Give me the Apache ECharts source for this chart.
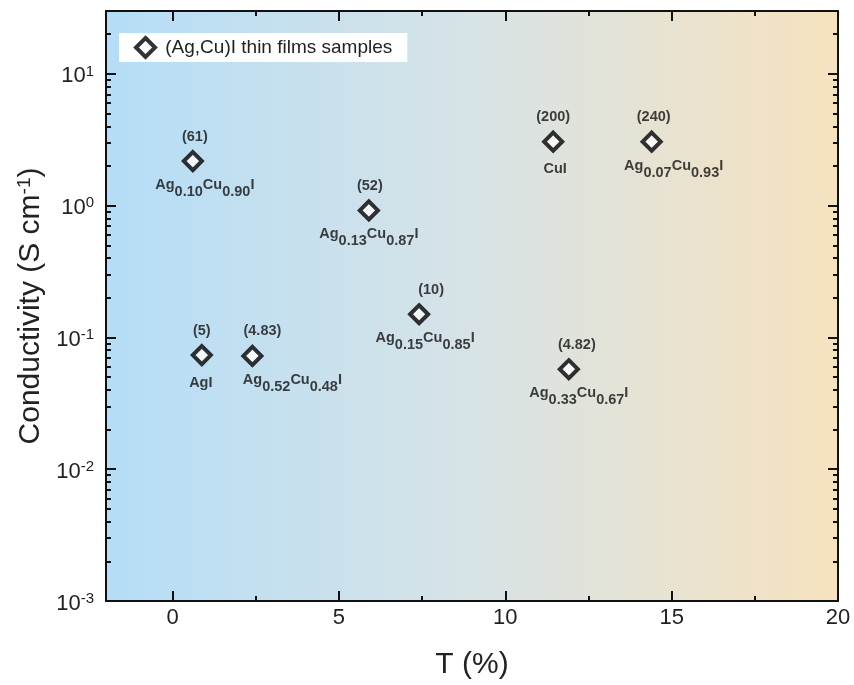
<!DOCTYPE html>
<html>
<head>
<meta charset="utf-8">
<script src="https://cdn.jsdelivr.net/npm/echarts@6/dist/echarts.min.js"></script>
<style>html,body{margin:0;padding:0;background:#fff;}#c{width:854px;height:685px;}</style>
</head>
<body>
<div id="c"></div>
<script>
// Data
const transmittanceT = [0.88, 2.40, 0.61, 5.90, 7.41, 11.44, 11.91, 14.40];
const conductivity = [0.0735, 0.0724, 2.18, 0.92, 0.150, 3.06, 0.0574, 3.06];
const meritLabels = ['(5)', '(4.83)', '(61)', '(52)', '(10)', '(200)', '(4.82)', '(240)'];
const sampleNames = ['AgI', 'Ag_{0.52}Cu_{0.48}I', 'Ag_{0.10}Cu_{0.90}I', 'Ag_{0.13}Cu_{0.87}I',
  'Ag_{0.15}Cu_{0.85}I', 'CuI', 'Ag_{0.33}Cu_{0.67}I', 'Ag_{0.07}Cu_{0.93}I'];
const xTickValues = [0, 5, 10, 15, 20];
const xMinorValues = [2.5, 7.5, 12.5, 17.5];
const yTickValues = [0.001, 0.01, 0.1, 1, 10];
const yMinorValues = [];
[-3, -2, -1, 0, 1].forEach(function (e) {
  for (let m = 2; m <= 9; m++) {
    const v = m * Math.pow(10, e);
    if (v <= 30) yMinorValues.push(+v.toPrecision(3));
  }
});
const seriesName = '(Ag,Cu)I thin films samples';

// Label layout nudges (pixels, horizontal) as placed in the reference
const meritLabelShiftX = [0, 10, 2, 1, 12, 0, 8, 2];
const nameLabelShiftX = [-1, 40, 12, 0, 6, 2, 10, 22];

function formulaRich(s) {
  if (s.indexOf('_') < 0) return '{p|' + s + '}';
  return s.replace(/_\{([^}]*)\}|([^_]+)/g, function (m, sub, main) {
    if (sub !== undefined) return '{s|' + sub + '}';
    return '{n|' + main + '}';
  });
}

const chart = echarts.init(document.getElementById('c'));
const axisColor = '#111';
const font = 'Arial, "Liberation Sans", sans-serif';

const meritData = transmittanceT.map(function (t, i) {
  return { value: [t, conductivity[i]], label: { offset: [meritLabelShiftX[i], 0] } };
});
const nameData = transmittanceT.map(function (t, i) {
  return { value: [t, conductivity[i]], label: { offset: [nameLabelShiftX[i], 0] } };
});

function xAxisDef(position, main) {
  return {
    type: 'value', min: -2, max: 20, position: position,
    axisLine: { show: main, onZero: false, lineStyle: { color: axisColor, width: 2 } },
    axisTick: { show: true, inside: true, length: main ? 10 : 5, customValues: main ? xTickValues : xMinorValues,
      lineStyle: { color: axisColor, width: 2 } },
    axisLabel: { show: main && position === 'bottom', customValues: xTickValues, fontSize: 22, color: '#222',
      fontFamily: font, margin: 6 },
    splitLine: { show: false },
    name: main && position === 'bottom' ? 'T (%)' : '',
    nameLocation: 'middle', nameGap: 49,
    nameTextStyle: { fontSize: 30, color: '#222', fontFamily: font }
  };
}
function yAxisDef(position, main) {
  return {
    type: 'log', logBase: 10, min: 0.001, max: 30, position: position,
    axisLine: { show: main, onZero: false, lineStyle: { color: axisColor, width: 2 } },
    axisTick: { show: true, inside: true, length: main ? 10 : 5, customValues: main ? yTickValues : yMinorValues,
      lineStyle: { color: axisColor, width: 2 } },
    axisLabel: {
      show: main && position === 'left', customValues: yTickValues, margin: 12,
      formatter: function (v) { return '{b|10}{s|' + Math.round(Math.log10(v)) + '}'; },
      rich: {
        b: { fontSize: 22, color: '#222', fontFamily: font, verticalAlign: 'middle', lineHeight: 22, padding: [5, 0, 0, 0] },
        s: { fontSize: 15, color: '#222', fontFamily: font, verticalAlign: 'middle', lineHeight: 15, padding: [0, 0, 5, 0] }
      }
    },
    splitLine: { show: false },
    name: main && position === 'left' ? '{a|Conductivity (S cm}{s|-1}{a|)}' : '',
    nameLocation: 'middle', nameGap: 57, nameRotate: 90,
    nameTextStyle: {
      rich: {
        a: { fontSize: 30, color: '#222', fontFamily: font, verticalAlign: 'middle', lineHeight: 30, padding: [6, 0, 0, 0] },
        s: { fontSize: 19, color: '#222', fontFamily: font, verticalAlign: 'middle', lineHeight: 19, padding: [0, 0, 6, 0] }
      }
    }
  };
}

chart.setOption({
  animation: false,
  backgroundColor: '#fff',
  grid: {
    left: 106, top: 11, right: 16, bottom: 84, show: true, borderWidth: 0,
    backgroundColor: {
      type: 'linear', x: 0, y: 0, x2: 1, y2: 0,
      colorStops: [
        { offset: 0, color: '#b5ddf7' },
        { offset: 0.5, color: '#d7e3e6' },
        { offset: 1, color: '#f6e2bf' }
      ]
    }
  },
  legend: {
    data: [seriesName], left: 119, top: 33, selectedMode: false,
    backgroundColor: '#fff', padding: [3, 15, 3, 15],
    itemWidth: 19, itemHeight: 19, icon: 'diamond',
    itemStyle: { color: '#fff', borderColor: '#000', borderWidth: 4 },
    formatter: function (n) { return ' ' + n; },
    textStyle: { fontSize: 19, color: '#222', fontFamily: font }
  },
  xAxis: [xAxisDef('bottom', true), xAxisDef('bottom', false), xAxisDef('top', true), xAxisDef('top', false)],
  yAxis: [yAxisDef('left', true), yAxisDef('left', false), yAxisDef('right', true), yAxisDef('right', false)],
  series: [
    {
      name: seriesName, type: 'scatter', xAxisIndex: 0, yAxisIndex: 0, data: meritData,
      symbol: 'diamond', symbolSize: 18, z: 3,
      itemStyle: { color: '#fff', borderColor: '#000', borderWidth: 4 },
      label: {
        show: true, position: 'top', distance: 6,
        formatter: function (p) { return meritLabels[p.dataIndex]; },
        fontSize: 14.5, fontWeight: 'bold', color: '#111', fontFamily: font
      }
    },
    {
      name: 'names', type: 'scatter', xAxisIndex: 0, yAxisIndex: 0, data: nameData,
      symbol: 'diamond', symbolSize: 18, silent: true, z: 2,
      itemStyle: { color: 'rgba(0,0,0,0)', borderWidth: 0 },
      label: {
        show: true, position: 'bottom', distance: 11,
        formatter: function (p) { return formulaRich(sampleNames[p.dataIndex]); },
        rich: {
          n: { fontSize: 14.5, fontWeight: 'bold', color: '#111', fontFamily: font, verticalAlign: 'middle', lineHeight: 15, padding: [0, 0, 7, 0] },
          s: { fontSize: 14.5, fontWeight: 'bold', color: '#111', fontFamily: font, verticalAlign: 'middle', lineHeight: 15, padding: [7, 0, 0, 0] },
          p: { fontSize: 14.5, fontWeight: 'bold', color: '#111', fontFamily: font, verticalAlign: 'middle', lineHeight: 15 }
        }
      }
    }
  ]
});
</script>
</body>
</html>
